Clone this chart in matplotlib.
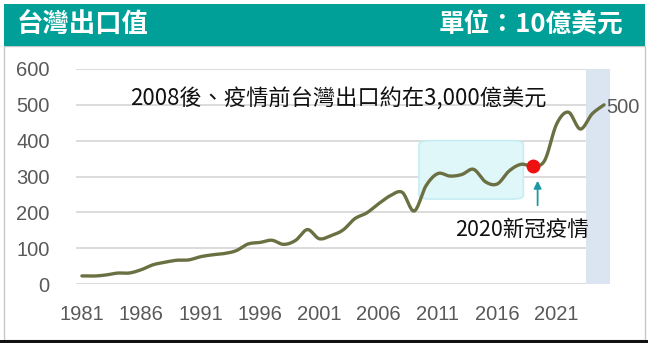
import numpy as np
import matplotlib
matplotlib.use("Agg")
import matplotlib.pyplot as plt
from matplotlib.patches import Rectangle, FancyBboxPatch

plt.rcParams['font.family'] = ['Noto Sans CJK TC', 'DejaVu Sans']

# Taiwan exports, unit: 10億美元
years = list(range(1981, 2026))
exports = [22.6, 22.2, 25.1, 30.5, 30.7, 39.9, 53.7, 60.7, 66.3, 67.2,
           76.2, 81.5, 85.1, 93.0, 111.7, 115.9, 122.1, 110.6, 121.6, 151.9,
           126.3, 135.3, 150.6, 182.4, 198.4, 224.0, 246.7, 255.6, 203.7, 274.6,
           308.3, 301.2, 305.4, 320.1, 285.3, 279.2, 315.5, 334.0, 329.2, 345.1,
           446.4, 479.4, 432.4, 475.0, 500.0]
xtick_years = [1981, 1986, 1991, 1996, 2001, 2006, 2011, 2016, 2021]
yticks = [0, 100, 200, 300, 400, 500, 600]
covid_year = 2019
end_label = "500"

title_left = "台灣出口值"
title_right = "單位：10億美元"
note = "2008後、疫情前台灣出口約在3,000億美元"
covid_note = "2020新冠疫情"

LATIN = ["Liberation Sans", "DejaVu Sans"]


def smooth(xs, ys, steps=16):
    """Catmull-Rom curve through the points, like a smoothed line chart."""
    xs = np.asarray(xs, float)
    ys = np.asarray(ys, float)
    px = np.concatenate([[2 * xs[0] - xs[1]], xs, [2 * xs[-1] - xs[-2]]])
    py = np.concatenate([[2 * ys[0] - ys[1]], ys, [2 * ys[-1] - ys[-2]]])
    ox, oy = [], []
    t = np.linspace(0, 1, steps, endpoint=False)
    for i in range(1, len(px) - 2):
        for arr, out in ((px, ox), (py, oy)):
            p0, p1, p2, p3 = arr[i - 1], arr[i], arr[i + 1], arr[i + 2]
            out.extend(0.5 * ((2 * p1) + (-p0 + p2) * t
                              + (2 * p0 - 5 * p1 + 4 * p2 - p3) * t ** 2
                              + (-p0 + 3 * p1 - 3 * p2 + p3) * t ** 3))
    ox.append(xs[-1])
    oy.append(ys[-1])
    return np.array(ox), np.array(oy)


fig = plt.figure(figsize=(6.48, 3.43), dpi=100)
fig.patch.set_facecolor("white")

# outer frame and title bar
fig.patches.append(Rectangle((4 / 648, 3 / 343), 641 / 648, 294 / 343,
                             transform=fig.transFigure, facecolor="none",
                             edgecolor="#c8c8c8", linewidth=1.0, zorder=-1))
fig.patches.append(Rectangle((4 / 648, 1 - 46 / 343), 641 / 648, 42 / 343,
                             transform=fig.transFigure, facecolor="#00a098",
                             edgecolor="none", zorder=-1))
fig.patches.append(Rectangle((0, 0), 1, 3 / 343, transform=fig.transFigure,
                             facecolor="#111111", edgecolor="none", zorder=-1))
fig.text(17 / 648, 1 - 25 / 343, title_left, color="white", fontsize=19,
         fontweight="bold", ha="left", va="center")
fig.text(623 / 648, 1 - 25 / 343, title_right, color="white", fontsize=18.5,
         fontweight="bold", ha="right", va="center")

ax = fig.add_axes([76 / 648, 1 - 284 / 343, 534 / 648, 215 / 343])
ax.patch.set_alpha(0)
ax.set_xlim(1980.5, 2025.5)
ax.set_ylim(0, 600)
for s in ax.spines.values():
    s.set_visible(False)
ax.set_yticks(yticks)
ax.set_xticks(xtick_years)
ax.set_xticklabels([str(y) for y in xtick_years])
ax.tick_params(length=0, labelsize=14.5, labelcolor="#595959")
ax.tick_params(axis="y", pad=19)
ax.tick_params(axis="x", pad=15)
for lab in ax.get_xticklabels() + ax.get_yticklabels():
    lab.set_fontfamily(LATIN)
ax.grid(axis="y", color="#d9d9d9", linewidth=1.3)
ax.set_axisbelow(True)

# forecast band
ax.axvspan(2023.45, 2025.5, color="#dae5f1", zorder=1, linewidth=0)

# highlighted plateau
ax.add_patch(FancyBboxPatch((2009.4, 237), 8.8, 163,
                            boxstyle="round,pad=0,rounding_size=0.9",
                            mutation_aspect=12, facecolor="#dff7f9",
                            edgecolor="#c6eef2", linewidth=1.2, zorder=2))

sx, sy = smooth(years, exports)
ax.plot(sx, sy, color="#6b7043", linewidth=2.4, zorder=3,
        solid_capstyle="round")

ci = years.index(covid_year)
ax.plot([years[ci]], [exports[ci]], "o", color="#ee1111", markersize=10,
        zorder=4, markeredgewidth=0)
ax.annotate("", xy=(covid_year + 0.4, 296), xytext=(covid_year + 0.4, 212),
            arrowprops=dict(arrowstyle="-|>", color="#1a9aa2", lw=1.3,
                            mutation_scale=11), zorder=4)
ax.text(2018.05, 151, covid_note, fontsize=15.5, color="#111111",
        ha="center", va="center", zorder=5)
ax.text(2002.6, 516, note, fontsize=16, color="#111111", ha="center",
        va="center", zorder=5)
ax.text(years[-1] + 0.15, exports[-1] - 8, end_label, fontsize=14.5,
        color="#595959", ha="left", va="center", zorder=5, family=LATIN)

fig.savefig("out.png", dpi=100, facecolor="white")
